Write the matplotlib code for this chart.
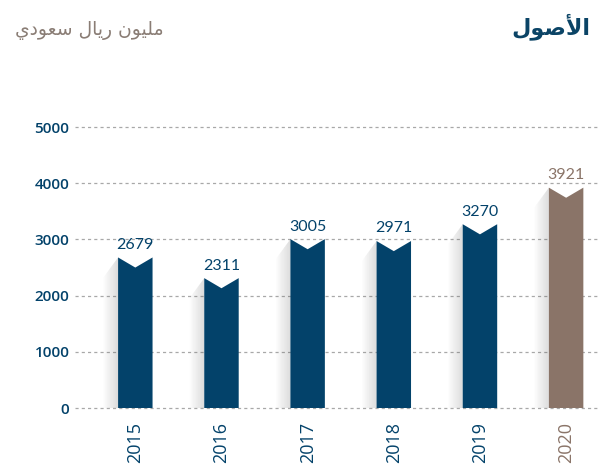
import matplotlib.pyplot as plt
from matplotlib.patches import Polygon

# data
years = ["2015", "2016", "2017", "2018", "2019", "2020"]
assets = [2679, 2311, 3005, 2971, 3270, 3921]
yticks = [0, 1000, 2000, 3000, 4000, 5000]

# pre-shaped arabic (presentation forms, visual order)
title = "\uFEDD\uFEEE\uFEBB\uFEF7\uFE8D"  # الأصول
unit = "\uFEF1\uFEA9\uFEEE\uFECC\uFEB3 \uFEDD\uFE8E\uFEF3\uFEAD \uFEE5\uFEEE\uFEF4\uFEE0\uFEE3"  # مليون ريال سعودي

blue = "#03426a"
brown = "#8a7468"
colors = [blue] * 5 + [brown]

fig = plt.figure(figsize=(5.98, 4.66), dpi=100)
ax = fig.add_axes([75 / 598, 1 - 408 / 466, 523 / 598, (408 - 127) / 466])
ax.set_xlim(-0.7, 5.37)
ax.set_ylim(0, 5000)

for y in yticks:
    ax.axhline(y, color="#a8a8a8", lw=0.9, ls=(0, (2.5, 2.5)), zorder=0, clip_on=False)

w = 0.4
notch = 180
for i, (v, c) in enumerate(zip(assets, colors)):
    x0, x1 = i - w / 2, i + w / 2
    # soft shadow on the left
    n = 14
    sw = 0.012
    for k in range(n):
        a = 0.2 * (1 - k / n)
        xs0 = x0 - (k + 1) * sw
        xs1 = x0 - k * sw
        top = v - (k + 1) * 25
        ax.add_patch(Polygon([(xs0, 0), (xs1, 0), (xs1, top + 25), (xs0, top)],
                             closed=True, fc="#555555", ec="none", alpha=a, zorder=1))
    ax.add_patch(Polygon([(x0, 0), (x1, 0), (x1, v), (i, v - notch), (x0, v)],
                         closed=True, fc=c, ec="none", zorder=2))
    ax.annotate(str(v), (i, v), xytext=(0, 4), textcoords="offset points",
                ha="center", va="bottom", fontsize=11.5, family="Lato",
                color=c, zorder=3)

ax.set_xticks(range(len(years)))
ax.set_xticklabels(years, rotation=90, fontsize=13, family="Open Sans")
for lbl, c in zip(ax.get_xticklabels(), colors):
    lbl.set_color(c)
ax.set_yticks(yticks)
ax.set_yticklabels([str(t) for t in yticks], fontsize=11, family="Open Sans",
                   fontweight="semibold", color=blue)
ax.tick_params(length=0, axis="y", pad=4)
ax.tick_params(length=0, axis="x", pad=10)
for s in ax.spines.values():
    s.set_visible(False)

fig.text(590 / 598, 1 - 27 / 466, title, ha="right", va="center", fontsize=16,
         fontweight="bold", color="#0b4466", family="DejaVu Sans")
fig.text(15 / 598, 1 - 31 / 466, unit, ha="left", va="center", fontsize=13.5,
         color="#8a7d75", family="DejaVu Sans")

fig.savefig("out.png", dpi=100)
